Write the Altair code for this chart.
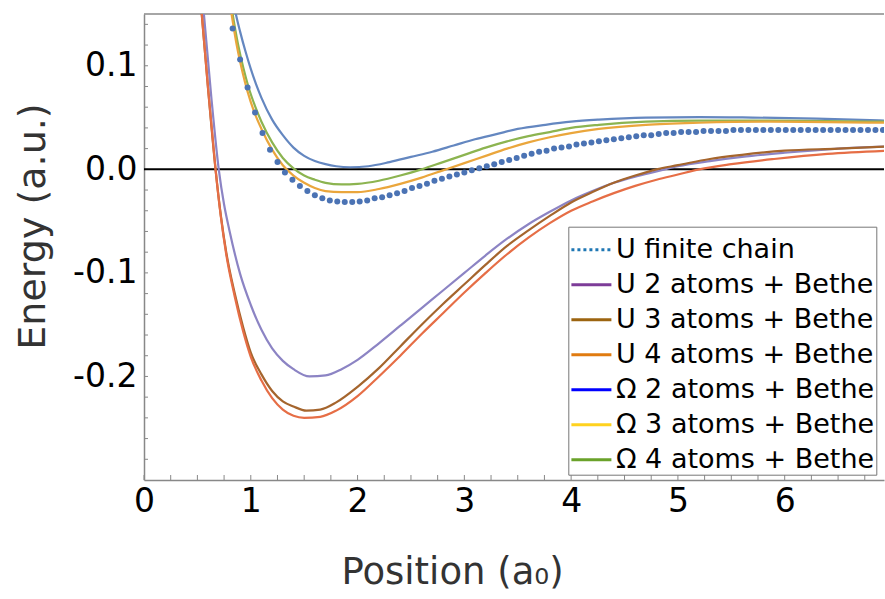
import altair as alt
import pandas as pd

FONT = "DejaVu Sans"
X_DOMAIN = [0.0, 6.93]
Y_DOMAIN = [-0.3, 0.15]
W, H = 740, 466

# ---------------- data ----------------
# U finite chain (dots)
chain_x = [0.83, 0.90, 0.97, 1.04, 1.11, 1.18, 1.25, 1.32, 1.39, 1.46,
           1.53, 1.60, 1.67, 1.74, 1.81, 1.88, 1.95, 2.02, 2.09, 2.16,
           2.23, 2.30, 2.37, 2.44, 2.51, 2.58, 2.65, 2.72, 2.79, 2.86,
           2.93, 3.00, 3.07, 3.14, 3.21, 3.28, 3.35, 3.42, 3.49, 3.56,
           3.63, 3.70, 3.77, 3.84, 3.91, 3.98, 4.05, 4.12, 4.19, 4.26,
           4.33, 4.40, 4.47, 4.54, 4.61, 4.68, 4.75, 4.82, 4.89, 4.96,
           5.03, 5.10, 5.17, 5.24, 5.31, 5.38, 5.45, 5.52, 5.59, 5.66,
           5.73, 5.80, 5.87, 5.94, 6.01, 6.08, 6.15, 6.22, 6.29, 6.36,
           6.43, 6.50, 6.57, 6.64, 6.71, 6.78, 6.85, 6.92]
chain_y = [0.136, 0.106, 0.079, 0.055, 0.035, 0.019, 0.007, -0.003, -0.010, -0.016,
           -0.021, -0.025, -0.028, -0.030, -0.031, -0.0315, -0.0315, -0.031, -0.030, -0.028,
           -0.027, -0.025, -0.023, -0.021, -0.018, -0.016, -0.014, -0.011, -0.009, -0.007,
           -0.005, -0.003, -0.001, 0.001, 0.003, 0.005, 0.007, 0.009, 0.011, 0.013,
           0.015, 0.017, 0.018, 0.020, 0.021, 0.022, 0.024, 0.025, 0.026, 0.027,
           0.028, 0.029, 0.030, 0.031, 0.032, 0.033, 0.033, 0.034, 0.035, 0.035,
           0.036, 0.036, 0.036, 0.037, 0.037, 0.037, 0.037, 0.038, 0.038, 0.038,
           0.038, 0.038, 0.038, 0.038, 0.038, 0.038, 0.038, 0.038, 0.038, 0.038,
           0.038, 0.038, 0.038, 0.038, 0.038, 0.038, 0.038, 0.038]

# Omega 2 atoms + Bethe (upper blue curve)
o2_x = [0.84, 0.86, 0.90, 0.95, 1.00, 1.05, 1.10, 1.20, 1.30, 1.40, 1.50, 1.60, 1.70, 1.80,
        1.93, 2.10, 2.30, 2.50, 2.70, 2.90, 3.10, 3.30, 3.50, 3.76, 4.00, 4.26, 4.70, 5.20,
        5.70, 6.30, 6.95]
o2_y = [0.160, 0.150, 0.133, 0.114, 0.097, 0.082, 0.069, 0.048, 0.033, 0.021, 0.013, 0.008,
        0.005, 0.003, 0.002, 0.003, 0.007, 0.012, 0.017, 0.023, 0.029, 0.034, 0.039, 0.043,
        0.046, 0.048, 0.050, 0.0505, 0.050, 0.049, 0.047]

# Omega 4 atoms + Bethe (green)
o4_x = [0.81, 0.83, 0.88, 0.93, 0.98, 1.04, 1.10, 1.20, 1.30, 1.40, 1.50, 1.60, 1.70, 1.85,
        2.00, 2.20, 2.40, 2.60, 2.80, 3.00, 3.20, 3.40, 3.60, 3.80, 4.00, 4.26, 4.70, 5.20,
        5.80, 6.40, 6.95]
o4_y = [0.163, 0.150, 0.121, 0.098, 0.079, 0.061, 0.046, 0.026, 0.011, 0.001, -0.006, -0.010,
        -0.013, -0.0145, -0.014, -0.011, -0.006, 0.000, 0.007, 0.014, 0.021, 0.027, 0.032,
        0.036, 0.040, 0.043, 0.046, 0.047, 0.047, 0.0465, 0.046]

# Omega 3 atoms + Bethe (orange, upper group)
o3_x = [0.80, 0.82, 0.87, 0.92, 0.97, 1.03, 1.10, 1.20, 1.30, 1.40, 1.50, 1.60, 1.70, 1.85,
        2.00, 2.20, 2.40, 2.60, 2.80, 3.00, 3.20, 3.40, 3.60, 3.80, 4.00, 4.26, 4.70, 5.20,
        5.80, 6.40, 6.95]
o3_y = [0.163, 0.150, 0.119, 0.095, 0.075, 0.056, 0.039, 0.019, 0.004, -0.006, -0.013, -0.018,
        -0.021, -0.022, -0.022, -0.019, -0.014, -0.008, -0.001, 0.006, 0.013, 0.020, 0.026,
        0.031, 0.035, 0.039, 0.043, 0.045, 0.046, 0.0455, 0.045]

# U 2 atoms + Bethe (lavender)
u2_x = [0.545, 0.56, 0.63, 0.70, 0.75, 0.80, 0.90, 1.00, 1.10, 1.20, 1.30, 1.40, 1.55, 1.70,
        1.85, 2.00, 2.20, 2.40, 2.60, 2.80, 3.00, 3.20, 3.40, 3.60, 3.80, 4.00, 4.20, 4.40,
        4.60, 4.80, 5.00, 5.30, 5.60, 6.00, 6.50, 6.95]
u2_y = [0.170, 0.151, 0.070, 0.0, -0.034, -0.059, -0.101, -0.131, -0.155, -0.173, -0.185,
        -0.193, -0.200, -0.199, -0.193, -0.184, -0.168, -0.151, -0.134, -0.117, -0.100,
        -0.083, -0.067, -0.053, -0.041, -0.030, -0.021, -0.013, -0.007, -0.002, 0.003,
        0.008, 0.012, 0.016, 0.020, 0.022]

# U 3 atoms + Bethe (brown)
u3_x = [0.525, 0.54, 0.60, 0.67, 0.72, 0.77, 0.85, 0.93, 1.00, 1.10, 1.20, 1.30, 1.40, 1.52,
        1.65, 1.80, 2.00, 2.20, 2.40, 2.60, 2.80, 3.00, 3.20, 3.40, 3.60, 3.80, 4.00, 4.20,
        4.40, 4.60, 4.80, 5.00, 5.30, 5.60, 6.00, 6.50, 6.95]
u3_y = [0.170, 0.151, 0.078, 0.0, -0.045, -0.080, -0.120, -0.153, -0.177, -0.198, -0.214,
        -0.224, -0.229, -0.233, -0.232, -0.225, -0.210, -0.192, -0.171, -0.150, -0.130,
        -0.111, -0.092, -0.074, -0.059, -0.045, -0.032, -0.022, -0.013, -0.006, 0.0,
        0.004, 0.010, 0.014, 0.018, 0.020, 0.022]

# U 4 atoms + Bethe (orange-red)
u4_x = [0.525, 0.54, 0.60, 0.67, 0.72, 0.77, 0.85, 0.93, 1.00, 1.10, 1.20, 1.30, 1.40, 1.50,
        1.65, 1.80, 2.00, 2.20, 2.40, 2.60, 2.80, 3.00, 3.20, 3.40, 3.60, 3.80, 4.00, 4.20,
        4.40, 4.60, 4.80, 5.00, 5.20, 5.50, 5.90, 6.40, 6.95]
u4_y = [0.170, 0.151, 0.078, 0.0, -0.046, -0.082, -0.123, -0.157, -0.181, -0.204, -0.221,
        -0.232, -0.238, -0.240, -0.239, -0.233, -0.219, -0.200, -0.180, -0.159, -0.139,
        -0.119, -0.100, -0.082, -0.066, -0.052, -0.040, -0.031, -0.023, -0.016, -0.010,
        -0.005, 0.0, 0.005, 0.010, 0.015, 0.018]

curve_xs = [o2_x, o4_x, o3_x, u2_x, u3_x, u4_x]
curve_ys = [o2_y, o4_y, o3_y, u2_y, u3_y, u4_y]
curve_colors = ["#6487c0", "#8cb450", "#eaa63c", "#8c84c4", "#a5652d", "#e66e46"]
dot_color = "#4b73b4"

legend_labels = ["U finite chain", "U 2 atoms + Bethe", "U 3 atoms + Bethe",
                 "U 4 atoms + Bethe", "Ω 2 atoms + Bethe", "Ω 3 atoms + Bethe",
                 "Ω 4 atoms + Bethe"]
legend_colors = ["#1f77b4", "#7d3c98", "#9c6410", "#e07b10", "#0000ff", "#ffd21f", "#6aa22a"]
legend_dashes = [[3, 3], [1, 0], [1, 0], [1, 0], [1, 0], [1, 0], [1, 0]]

x_label_values = [0, 1, 2, 3, 4, 5, 6]
x_tick_values = [0, 0.25, 0.5, 0.75, 1, 1.25, 1.5, 1.75, 2, 2.25, 2.5, 2.75, 3, 3.25,
                 3.5, 3.75, 4, 4.25, 4.5, 4.75, 5, 5.25, 5.5, 5.75, 6, 6.25, 6.5, 6.75]
y_label_values = [-0.2, -0.1, 0.0, 0.1]
y_tick_values = [-0.28, -0.26, -0.24, -0.22, -0.2, -0.18, -0.16, -0.14, -0.12, -0.1,
                 -0.08, -0.06, -0.04, -0.02, 0.0, 0.02, 0.04, 0.06, 0.08, 0.1, 0.12, 0.14]

# ---------------- chart ----------------
xs_ = alt.Scale(domain=X_DOMAIN, nice=False, zero=False)
ys_ = alt.Scale(domain=Y_DOMAIN, nice=False, zero=False)

x_axis = alt.Axis(values=x_label_values, format="d", labelFont=FONT, labelFontSize=33,
                  labelColor="black", ticks=False, domainColor="#888888", domainWidth=1.5,
                  grid=False, labelFlush=False, labelPadding=5, title="Position (a₀)",
                  titleFont=FONT, titleFontSize=37, titleFontWeight="normal",
                  titleColor="#333333", titleX=308, titleY=103, titleAlign="center",
                  titleBaseline="alphabetic")
y_axis = alt.Axis(values=y_label_values,
                  labelExpr="datum.value < 0 ? '-' + format(-datum.value, '.1f') : format(datum.value, '.1f')",
                  labelFont=FONT, labelFontSize=33, labelColor="black", ticks=False,
                  domainColor="#888888", domainWidth=1.5, grid=False, labelFlush=False,
                  labelPadding=7, title="Energy (a.u.)", titleFont=FONT, titleFontSize=38,
                  titleFontWeight="normal", titleColor="#333333", titleAngle=270,
                  titleX=-100, titleY=212, titleAlign="center", titleBaseline="alphabetic")

base_x = alt.X("x:Q", scale=xs_, axis=x_axis)
base_y = alt.Y("y:Q", scale=ys_, axis=y_axis)

layers = []

# frame line on top
layers.append(alt.Chart(pd.DataFrame({"v": [0]})).mark_rule(color="#888888", strokeWidth=1.5).encode(
    x=alt.value(0), x2=alt.value(W), y=alt.value(0)))

# inward ticks
layers.append(alt.Chart(pd.DataFrame({"x": x_tick_values})).mark_rule(color="#888888", strokeWidth=1).encode(
    x=base_x, y=alt.value(H), y2=alt.value(H - 5)))
layers.append(alt.Chart(pd.DataFrame({"y": y_tick_values})).mark_rule(color="#888888", strokeWidth=1).encode(
    y=base_y, x=alt.value(0), x2=alt.value(4)))

# zero line
layers.append(alt.Chart(pd.DataFrame({"y": [0.0]})).mark_rule(color="black", strokeWidth=2).encode(
    y=base_y))

# curves
for xs, ys, col in zip(curve_xs, curve_ys, curve_colors):
    df = pd.DataFrame({"x": xs, "y": ys})
    layers.append(alt.Chart(df).mark_line(clip=True, strokeWidth=2.2, color=col,
                                          interpolate="monotone").encode(x=base_x, y=base_y))

# finite chain dots
layers.append(alt.Chart(pd.DataFrame({"x": chain_x, "y": chain_y})).mark_circle(
    size=36, color=dot_color, opacity=1, clip=True).encode(x=base_x, y=base_y))

# legend (entries only, no visible data)
leg = alt.Legend(orient="none", legendX=424.3, legendY=212.7, title=None, labelFont=FONT,
                 labelFontSize=27, labelColor="black", symbolType="stroke", symbolSize=1600,
                 symbolStrokeWidth=3, labelOffset=3, padding=1.6, rowPadding=-1.1,
                 strokeColor="#777777", fillColor="white", labelLimit=500)
legend_df = pd.DataFrame({"label": legend_labels, "x": [-1.0] * len(legend_labels),
                          "y": [-1.0] * len(legend_labels)})
layers.append(alt.Chart(legend_df).mark_line(clip=True, strokeWidth=3).encode(
    x=base_x, y=base_y,
    color=alt.Color("label:N", scale=alt.Scale(domain=legend_labels, range=legend_colors), legend=leg),
    strokeDash=alt.StrokeDash("label:N", scale=alt.Scale(domain=legend_labels, range=legend_dashes), legend=leg)))

chart = alt.layer(*layers).properties(
    width=W, height=H,
    autosize=alt.AutoSizeParams(type="none"),
    padding={"left": 144, "top": 14, "right": 1, "bottom": 119},
    background="white",
).configure_view(stroke=None)

chart.save("out.html", embed_options={"renderer": "svg", "actions": False})
